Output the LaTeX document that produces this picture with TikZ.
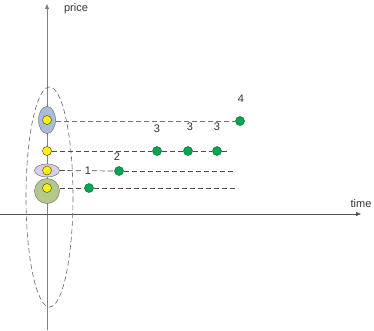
\documentclass[tikz,border=0pt]{standalone}
\usepackage{fontspec}
\setmainfont{Liberation Sans}
\usetikzlibrary{arrows.meta,shapes.geometric}
\definecolor{axisgray}{HTML}{808080}
\definecolor{axisdark}{HTML}{555555}
\definecolor{blueell}{HTML}{A9BCDA}
\definecolor{purpell}{HTML}{D6CFE6}
\definecolor{greenbig}{HTML}{B3C98C}
\definecolor{dotgreen}{HTML}{00A651}
\definecolor{dotgreenb}{HTML}{1E6B35}
\tikzset{
  lbl/.style={font=\fontsize{11}{12}\selectfont, text=black!80, inner sep=0.5pt},
  ydot/.style={circle, fill=yellow, draw=black!70, line width=0.5pt, minimum size=9pt, inner sep=0pt},
  gdot/.style={circle, fill=dotgreen, draw=dotgreenb, line width=0.5pt, minimum size=9pt, inner sep=0pt},
  dline/.style={draw=black!70, line width=0.7pt, dash pattern=on 5pt off 3pt},
  dlinelight/.style={draw=black!55, line width=0.5pt, dash pattern=on 5pt off 3pt},
  axis/.style={line width=0.8pt, -{Triangle[length=5pt,width=4pt]}},
}
\begin{document}
\begin{tikzpicture}[x=1pt,y=-1pt]
\useasboundingbox (0,0) rectangle (374,330);
% axes
\coordinate (vs) at (47,330);
\coordinate (ve) at (47,4);
\coordinate (hs) at (0,214);
\coordinate (he) at (361,214);
\draw[axis, draw=axisgray, fill=axisgray] (vs) -- (ve);
\draw[axis, draw=axisdark, fill=axisdark] (hs) -- (he);
\node[lbl] (price) at (76,9) {price};
\node[lbl] (time) at (361,204) {time};
% big dashed ellipse
\draw[draw=black!60, line width=0.6pt, dash pattern=on 5pt off 3pt] (49.5,197) ellipse [x radius=23.5, y radius=110];
% shapes on axis
\node[ellipse, draw=black!55, fill=blueell, line width=0.5pt, minimum width=17pt, minimum height=27pt, inner sep=0pt] (be) at (47,120) {};
\node[ellipse, draw=black!55, fill=purpell, line width=0.5pt, minimum width=25pt, minimum height=13pt, inner sep=0pt] (pe) at (47,170.5) {};
\node[circle, draw=black!55, fill=greenbig, line width=0.5pt, minimum size=25pt, inner sep=0pt] (gc) at (47,191) {};
\node[ydot] (y1) at (47,120) {};
\node[ydot] (y2) at (47,151) {};
\node[ydot] (y3) at (47,170.5) {};
\node[ydot] (y4) at (47,188) {};
% line ends
\coordinate (e2) at (228,151);
\coordinate (e3) at (234,171);
\coordinate (e4) at (236,188);
% green dots
\node[gdot] (g4) at (240,121) {};
\node[gdot] (g3a) at (157,151) {};
\node[gdot] (g3b) at (188,151) {};
\node[gdot] (g3c) at (217,151) {};
\node[gdot] (g2) at (119,171) {};
\node[gdot] (g1) at (89,188) {};
% dashed lines
\draw[dlinelight] (be.east |- 0,121) -- (g4.west);
\draw[dline] (y2.east) -- (g3a.west);
\draw[dline] (g3a.east) -- (g3b.west);
\draw[dline] (g3b.east) -- (g3c.west);
\draw[dline] (g3c.east) -- (e2);
\draw[dline] (pe.east) -- (g2.west);
\draw[dline] (g2.east) -- (e3);
\draw[dline] (gc.east |- 0,188) -- (g1.west);
\draw[dline] (g1.east) -- (e4);
% labels
\node[lbl, fill=white] (l1) at (88,171) {1};
\node[lbl] (l2) at (117,157) {2};
\node[lbl] (l3a) at (157,129) {3};
\node[lbl] (l3b) at (190,127) {3};
\node[lbl] (l3c) at (217,127) {3};
\node[lbl] (l4) at (241,99) {4};
\end{tikzpicture}
\end{document}
